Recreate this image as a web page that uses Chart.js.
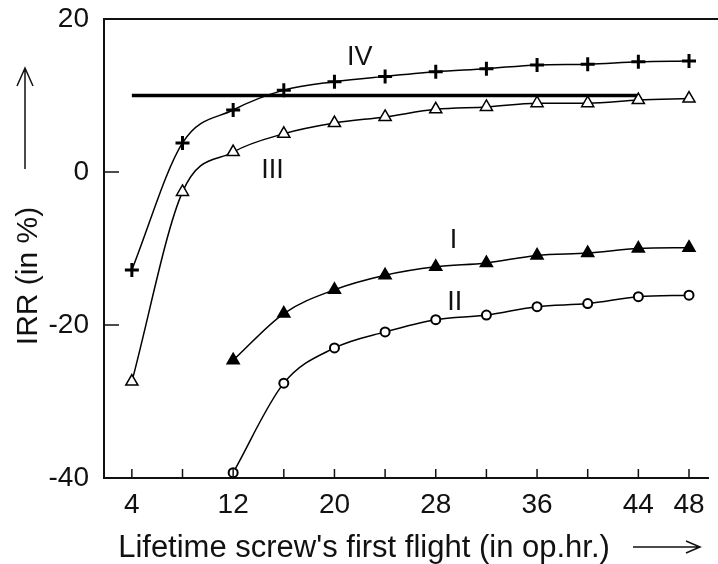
<!DOCTYPE html>
<html>
<head>
<meta charset="utf-8">
<script src="https://cdn.jsdelivr.net/npm/chart.js@4/dist/chart.umd.min.js"></script>
<style>
  body { margin: 0; background: #fff; }
  #wrap { width: 718px; height: 564px; position: relative; }
</style>
</head>
<body>
<div id="wrap"><canvas id="myChart"></canvas></div>
<script>
// lifetime of the screw's first flight (op.hr.)
const xValues = [4, 8, 12, 16, 20, 24, 28, 32, 36, 40, 44, 48];

// IRR (%) per curve, null = not drawn
const irrIV  = [-12.8, 3.8, 8.1, 10.7, 11.8, 12.5, 13.1, 13.5, 14.0, 14.1, 14.4, 14.5];
const irrIII = [-27.4, -2.6, 2.6, 5.0, 6.4, 7.2, 8.2, 8.5, 9.0, 9.0, 9.4, 9.6];
const irrI   = [null, null, -24.6, -18.5, -15.4, -13.5, -12.4, -11.9, -10.9, -10.6, -10.0, -9.9];
const irrII  = [null, null, -39.3, -27.6, -23.0, -20.9, -19.3, -18.7, -17.6, -17.2, -16.3, -16.1];

// reference level line
const refX = [4, 44];
const refY = [10, 10];

// ticks
const xTicks = [4, 8, 12, 16, 20, 24, 28, 32, 36, 40, 44, 48];
const xTickLabels = [4, 12, 20, 28, 36, 44, 48];
const yTicks = [-40, -20, 0, 20];
const yTickMarks = [-20, 0];

// curve names and where they sit (data coords)
const curveNames = ["IV", "III", "I", "II"];
const curveNameX = [22.0, 15.1, 29.4, 29.5];
const curveNameY = [15.0, 0.2, -9.0, -17.1];

const FONT = "'Liberation Sans', Arial, sans-serif";

function toPoints(xs, ys) {
  const pts = [];
  xs.forEach(function (x, i) {
    if (ys[i] !== null) pts.push({ x: x, y: ys[i] });
  });
  return pts;
}

function series(data, style, radius, fill, bw) {
  return {
    data: data,
    showLine: true,
    borderColor: "#000",
    borderWidth: 1.5,
    cubicInterpolationMode: "monotone",
    pointStyle: style,
    pointRadius: radius,
    pointBackgroundColor: fill,
    pointBorderColor: "#000",
    pointBorderWidth: bw,
    clip: false,
  };
}

// extra drawing: top frame line, inner tick marks, curve names, axis titles with arrows
const decorations = {
  id: "decorations",
  afterDraw(chart) {
    const ctx = chart.ctx;
    const area = chart.chartArea;
    const xs = chart.scales.x;
    const ys = chart.scales.y;
    ctx.save();
    ctx.strokeStyle = "#111";
    ctx.fillStyle = "#111";

    // top frame
    ctx.lineWidth = 2;
    ctx.beginPath();
    ctx.moveTo(area.left, area.top);
    ctx.lineTo(chart.width, area.top);
    ctx.stroke();

    // inner tick marks
    ctx.lineWidth = 1.5;
    xTicks.forEach(function (v) {
      const px = xs.getPixelForValue(v);
      ctx.beginPath();
      ctx.moveTo(px, area.bottom);
      ctx.lineTo(px, area.bottom - 9);
      ctx.stroke();
    });
    yTickMarks.forEach(function (v) {
      const py = ys.getPixelForValue(v);
      ctx.beginPath();
      ctx.moveTo(area.left, py);
      ctx.lineTo(area.left + 15, py);
      ctx.stroke();
    });

    // curve names
    ctx.font = "27px " + FONT;
    ctx.textAlign = "center";
    ctx.textBaseline = "middle";
    curveNames.forEach(function (name, i) {
      ctx.fillText(name, xs.getPixelForValue(curveNameX[i]), ys.getPixelForValue(curveNameY[i]));
    });

    // x title + arrow
    ctx.font = "31px " + FONT;
    ctx.textBaseline = "alphabetic";
    ctx.fillText("Lifetime screw's first flight (in op.hr.)", 364, 557);
    ctx.lineWidth = 1.5;
    ctx.beginPath();
    ctx.moveTo(633, 547);
    ctx.lineTo(700, 547);
    ctx.moveTo(686, 541);
    ctx.lineTo(700, 547);
    ctx.lineTo(686, 553);
    ctx.stroke();

    // y title + arrow
    ctx.save();
    ctx.translate(37, 276);
    ctx.rotate(-Math.PI / 2);
    ctx.font = "30px " + FONT;
    ctx.fillText("IRR (in %)", 0, 0);
    ctx.restore();
    ctx.beginPath();
    ctx.moveTo(25, 169);
    ctx.lineTo(25, 68);
    ctx.moveTo(17, 86);
    ctx.lineTo(25, 68);
    ctx.lineTo(33, 86);
    ctx.stroke();

    ctx.restore();
  },
};

const ctx = document.getElementById("myChart").getContext("2d");
window.myChart = new Chart(ctx, {
  type: "scatter",
  data: {
    datasets: [
      series(toPoints(xValues, irrIV), "cross", 7, "#000", 3),
      series(toPoints(xValues, irrIII), "triangle", 7, "#fff", 1.5),
      series(toPoints(xValues, irrI), "triangle", 7, "#000", 1.5),
      series(toPoints(xValues, irrII), "circle", 4.5, "#fff", 2),
      {
        data: toPoints(refX, refY),
        showLine: true,
        borderColor: "#000",
        borderWidth: 3.5,
        pointRadius: 0,
        clip: false,
      },
    ],
  },
  options: {
    responsive: true,
    maintainAspectRatio: false,
    animation: false,
    layout: { padding: { top: 0, right: 0, left: 0, bottom: 0 } },
    plugins: {
      legend: { display: false },
      tooltip: { enabled: false },
    },
    scales: {
      x: {
        type: "linear",
        min: 1.8,
        max: 49.5,
        afterBuildTicks: function (scale) {
          scale.ticks = xTicks.map(function (v) { return { value: v }; });
        },
        afterFit: function (scale) { scale.height = 86; },
        ticks: {
          autoSkip: false,
          maxRotation: 0,
          padding: 10,
          color: "#111",
          font: { family: FONT, size: 28 },
          callback: function (v) { return xTickLabels.includes(v) ? String(v) : ""; },
        },
        grid: { display: false, drawTicks: false },
        border: { display: true, color: "#111", width: 2 },
      },
      y: {
        type: "linear",
        min: -40,
        max: 20,
        afterBuildTicks: function (scale) {
          scale.ticks = yTicks.map(function (v) { return { value: v }; });
        },
        afterFit: function (scale) {
          scale.width = 104;
          scale.paddingTop = 19;
        },
        ticks: {
          padding: 15,
          color: "#111",
          font: { family: FONT, size: 28 },
        },
        grid: { display: false, drawTicks: false },
        border: { display: true, color: "#111", width: 2 },
      },
    },
  },
  plugins: [decorations],
});
</script>
</body>
</html>
